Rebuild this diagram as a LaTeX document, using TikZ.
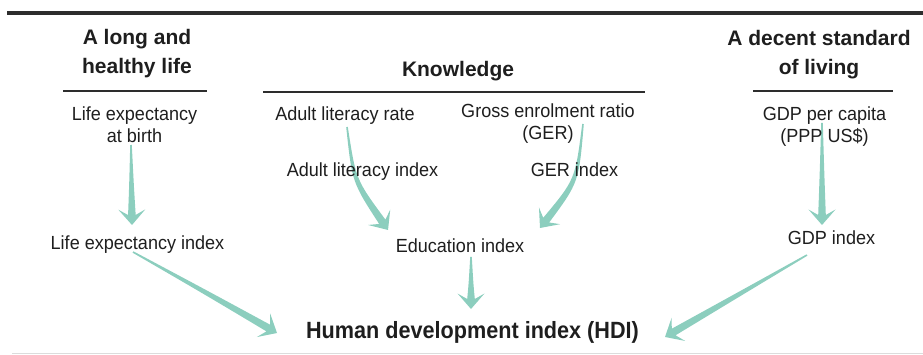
\documentclass[tikz,border=0pt]{standalone}
\usepackage{fontspec}
\setmainfont{Liberation Sans}
\newfontfamily\bodyfont{Liberation Sans}[FakeStretch=0.95]
\newfontfamily\headfont{Liberation Sans Bold}
\newfontfamily\hdifont{Liberation Sans Bold}[FakeStretch=0.92]
\usetikzlibrary{calc}
\definecolor{arrowteal}{RGB}{140,206,190}
\definecolor{inkgray}{RGB}{30,30,30}
\definecolor{rulegray}{RGB}{45,45,45}
\definecolor{lightrule}{RGB}{220,220,220}
\newcommand\twoline[2]{\begin{tabular}[t]{@{}c@{}}#1\\#2\end{tabular}}
% #1 start, #2 control/middle point, #3 tip
\newcommand\taperarrow[3]{%
  \coordinate (ta-b) at ($(#3)!10pt!(#2)$);
  \coordinate (ta-w) at ($(#3)!15.5pt!(#2)$);
  \fill[arrowfill] ($(#1)!0.8pt!90:(#2)$) .. controls ($(#2)!2.3pt!90:(ta-b)$) .. ($(ta-b)!3.8pt!90:(#3)$)
    -- ($(ta-w)!13.5pt!90:(#3)$) -- (#3) -- ($(ta-w)!13.5pt!-90:(#3)$)
    -- ($(ta-b)!3.8pt!-90:(#3)$) .. controls ($(#2)!2.3pt!-90:(ta-b)$) .. ($(#1)!0.8pt!-90:(#2)$) -- cycle;
}
\tikzset{
  arrowfill/.style={fill=arrowteal},
  headtext/.style={anchor=base, inner sep=0pt, text=inkgray, font=\headfont\fontsize{21}{28.5}\selectfont},
  bodytext/.style={anchor=base, inner sep=0pt, text=inkgray, font=\bodyfont\fontsize{19}{22}\selectfont},
  hditext/.style={anchor=base, inner sep=0pt, text=inkgray, font=\hdifont\fontsize{23.5}{28}\selectfont},
  underrule/.style={draw=rulegray, line width=1.6pt},
  toprule/.style={draw=rulegray, line width=4pt},
  bottomrule/.style={draw=lightrule, line width=1pt}
}
\begin{document}
\begin{tikzpicture}[x=1pt, y=-1pt]
\useasboundingbox (0,0) rectangle (923,355);
% rules
\draw[toprule] (7,13) -- (923,13);
\draw[bottomrule] (12,353) -- (923,353);
% arrow end points
\coordinate (a1s) at (131,145);  \coordinate (a1m) at (131.5,185); \coordinate (a1t) at (132,225);
\coordinate (a2s) at (347,127);  \coordinate (a2m) at (354,181);   \coordinate (a2t) at (388,230);
\coordinate (a3s) at (583,124);  \coordinate (a3m) at (577,181);   \coordinate (a3t) at (540,228);
\coordinate (a4s) at (471,257);  \coordinate (a4m) at (471,283);   \coordinate (a4t) at (471,309);
\coordinate (a5s) at (133,252);  \coordinate (a5m) at (205,292);   \coordinate (a5t) at (277,333);
\coordinate (a6s) at (807,255);  \coordinate (a6m) at (736,296);   \coordinate (a6t) at (665,337);
\coordinate (a7s) at (822,123);  \coordinate (a7m) at (822,174);   \coordinate (a7t) at (822,225);
\taperarrow{a1s}{a1m}{a1t}
\taperarrow{a2s}{a2m}{a2t}
\taperarrow{a3s}{a3m}{a3t}
\taperarrow{a4s}{a4m}{a4t}
\taperarrow{a5s}{a5m}{a5t}
\taperarrow{a6s}{a6m}{a6t}
\taperarrow{a7s}{a7m}{a7t}
% headers
\node[headtext] (hlife) at (137,45) {\twoline{A long and}{healthy life}};
\node[headtext] (hknow) at (458,77) {Knowledge};
\node[headtext] (hliving) at (819,46) {\twoline{A decent standard}{of living}};
\draw[underrule] (63,91) -- (207,91);
\draw[underrule] (263,92) -- (645,92);
\draw[underrule] (753,91) -- (893,91);
% inputs
\node[bodytext] (lifeexp) at (134.5,120.5) {\twoline{Life expectancy}{at birth}};
\node[bodytext] (alr) at (345,120.5) {Adult literacy rate};
\node[bodytext] (ger) at (548,118) {\twoline{Gross enrolment ratio}{(GER)}};
\node[bodytext] (gdp) at (824.5,120.5) {\twoline{GDP per capita}{(PPP US\$)}};
% indices
\node[bodytext] (ali) at (362.5,177) {Adult literacy index};
\node[bodytext] (geri) at (574.5,177) {GER index};
\node[bodytext] (lei) at (137.5,250) {Life expectancy index};
\node[bodytext] (edu) at (460,253) {Education index};
\node[bodytext] (gdpi) at (831.5,245) {GDP index};
\node[hditext] (hdi) at (472.5,338) {Human development index (HDI)};
\end{tikzpicture}
\end{document}
